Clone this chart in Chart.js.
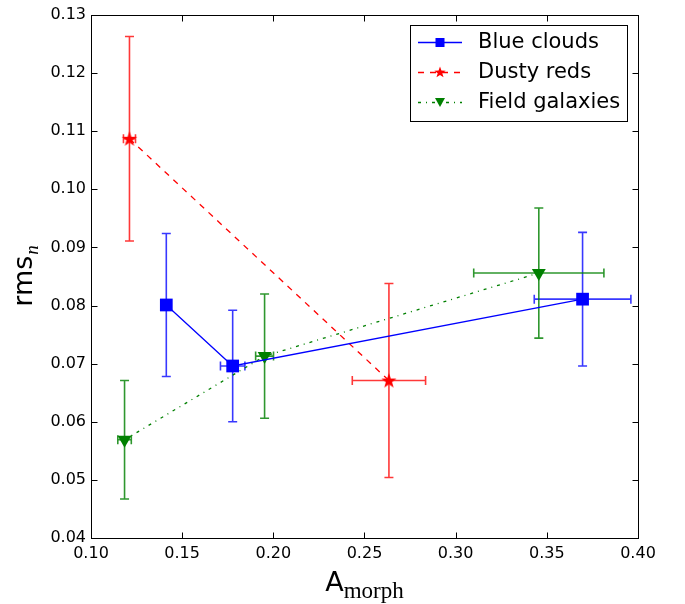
<!DOCTYPE html>
<html>
<head>
    <title>rms_n vs A_morph</title>
    <style>
        body { margin: 0; background: #ffffff; }
        #graf { width: 685px; height: 604px; position: absolute; left: 0; top: 0; }
    </style>
</head>
<body>
    <div id="graf"><canvas id="grafico"></canvas></div>

    <script src="https://cdn.jsdelivr.net/npm/chart.js"></script>
    <script>
        // dados
        var xTicks = [0.10, 0.15, 0.20, 0.25, 0.30, 0.35, 0.40];
        var yTicks = [0.04, 0.05, 0.06, 0.07, 0.08, 0.09, 0.10, 0.11, 0.12, 0.13];

        var blueX = [0.1413, 0.1777, 0.3696];
        var blueY = [0.0801, 0.0696, 0.0811];
        var blueXErr = [0, 0.0067, 0.0265];
        var blueYErr = [0.0123, 0.0096, 0.0115];

        var redX = [0.1211, 0.2634];
        var redY = [0.1087, 0.0671];
        var redXErr = [0.0033, 0.0201];
        var redYErr = [0.0176, 0.0167];

        var greenX = [0.1184, 0.1952, 0.3456];
        var greenY = [0.0569, 0.0713, 0.0856];
        var greenXErr = [0.0037, 0.0049, 0.0357];
        var greenYErr = [0.0102, 0.0107, 0.0112];

        var labels = ["Blue clouds", "Dusty reds", "Field galaxies"];

        function pontos(xs, ys) {
            return xs.map(function (x, i) { return { x: x, y: ys[i] }; });
        }

        // estrela de 5 pontas preenchida (marcador "*")
        function estrela(r, ri) {
            var c = document.createElement("canvas");
            var s = Math.ceil(r * 2 + 2);
            c.width = s; c.height = s;
            var g = c.getContext("2d");
            g.fillStyle = "#ff0000";
            g.beginPath();
            for (var k = 0; k < 10; k++) {
                var rr = k % 2 === 0 ? r : ri;
                var a = -Math.PI / 2 + k * Math.PI / 5;
                var px = s / 2 + rr * Math.cos(a), py = s / 2 + 0.5 + rr * Math.sin(a);
                if (k === 0) g.moveTo(px, py); else g.lineTo(px, py);
            }
            g.closePath();
            g.fill();
            return c;
        }
        var star = estrela(8, 3.2);
        var starSmall = estrela(6, 2.4);

        var series = [
            { xs: blueX, ys: blueY, xe: blueXErr, ye: blueYErr, cor: "rgba(0,0,255,0.78)" },
            { xs: redX, ys: redY, xe: redXErr, ye: redYErr, cor: "rgba(255,0,0,0.78)" },
            { xs: greenX, ys: greenY, xe: greenXErr, ye: greenYErr, cor: "rgba(0,128,0,0.82)" }
        ];

        // barras de erro desenhadas com as escalas do grafico
        var errorBars = {
            id: "errorBars",
            beforeDatasetsDraw: function (chart) {
                var ctx = chart.ctx, sx = chart.scales.x, sy = chart.scales.y;
                ctx.save();
                ctx.lineWidth = 1.6;
                series.forEach(function (s) {
                    ctx.strokeStyle = s.cor;
                    s.xs.forEach(function (x, i) {
                        var px = sx.getPixelForValue(x), py = sy.getPixelForValue(s.ys[i]);
                        var top = sy.getPixelForValue(s.ys[i] + s.ye[i]);
                        var bot = sy.getPixelForValue(s.ys[i] - s.ye[i]);
                        ctx.beginPath();
                        ctx.moveTo(px, top); ctx.lineTo(px, bot);
                        ctx.moveTo(px - 4.5, top); ctx.lineTo(px + 4.5, top);
                        ctx.moveTo(px - 4.5, bot); ctx.lineTo(px + 4.5, bot);
                        if (s.xe[i] > 0) {
                            var l = sx.getPixelForValue(x - s.xe[i]);
                            var r = sx.getPixelForValue(x + s.xe[i]);
                            ctx.moveTo(l, py); ctx.lineTo(r, py);
                            ctx.moveTo(l, py - 4.5); ctx.lineTo(l, py + 4.5);
                            ctx.moveTo(r, py - 4.5); ctx.lineTo(r, py + 4.5);
                        }
                        ctx.stroke();
                    });
                });
                ctx.restore();
            }
        };

        // moldura, ticks para dentro, legenda e titulos dos eixos
        var moldura = {
            id: "moldura",
            afterDraw: function (chart) {
                var ctx = chart.ctx, a = chart.chartArea, sx = chart.scales.x, sy = chart.scales.y;
                var L = Math.round(a.left) + 0.5, R = Math.round(a.right) + 0.5;
                var T = Math.round(a.top) + 0.5, B = Math.round(a.bottom) + 0.5;
                ctx.save();
                ctx.strokeStyle = "#000";
                ctx.lineWidth = 1;
                ctx.strokeRect(L, T, R - L, B - T);
                ctx.beginPath();
                xTicks.forEach(function (v) {
                    var p = Math.round(sx.getPixelForValue(v)) + 0.5;
                    ctx.moveTo(p, B); ctx.lineTo(p, B - 6);
                    ctx.moveTo(p, T); ctx.lineTo(p, T + 6);
                });
                yTicks.forEach(function (v) {
                    var p = Math.round(sy.getPixelForValue(v)) + 0.5;
                    ctx.moveTo(L, p); ctx.lineTo(L + 6, p);
                    ctx.moveTo(R, p); ctx.lineTo(R - 6, p);
                });
                ctx.stroke();

                // legenda
                var bx = 410.5, by = 25.5, bw = 217, bh = 96;
                ctx.fillStyle = "#fff";
                ctx.fillRect(bx, by, bw, bh);
                ctx.strokeRect(bx, by, bw, bh);
                var rows = [42, 72, 102];
                var dashes = [[], [6, 6], [3, 5, 1, 5]];
                var cores = ["#0000ff", "#ff0000", "#008000"];
                rows.forEach(function (y, i) {
                    ctx.save();
                    ctx.strokeStyle = cores[i];
                    ctx.lineWidth = 1.3;
                    ctx.setLineDash(dashes[i]);
                    ctx.beginPath();
                    ctx.moveTo(418, y + 0.5); ctx.lineTo(462, y + 0.5);
                    ctx.stroke();
                    ctx.restore();
                    ctx.fillStyle = cores[i];
                    if (i === 0) {
                        ctx.fillRect(435.5, y - 4, 9, 9);
                    } else if (i === 1) {
                        ctx.drawImage(starSmall, 440 - starSmall.width / 2, y - starSmall.height / 2);
                    } else {
                        ctx.beginPath();
                        ctx.moveTo(435, y - 4); ctx.lineTo(445, y - 4); ctx.lineTo(440, y + 5);
                        ctx.closePath(); ctx.fill();
                    }
                    ctx.fillStyle = "#000";
                    ctx.font = "21px 'DejaVu Sans'";
                    ctx.textBaseline = "middle";
                    ctx.textAlign = "left";
                    ctx.fillText(labels[i], 478, y + 1);
                });

                // titulo eixo x: A_morph
                ctx.fillStyle = "#000";
                ctx.textBaseline = "alphabetic";
                ctx.textAlign = "left";
                ctx.font = "27px 'DejaVu Sans'";
                var wA = ctx.measureText("A").width;
                ctx.font = "23px 'Liberation Serif'";
                var wM = ctx.measureText("morph").width;
                var cx = (a.left + a.right) / 2;
                var x0 = cx - (wA + wM) / 2;
                ctx.font = "27px 'DejaVu Sans'";
                ctx.fillText("A", x0, 591);
                ctx.font = "23px 'Liberation Serif'";
                ctx.fillText("morph", x0 + wA, 598);

                // titulo eixo y: rms_n
                ctx.save();
                ctx.translate(32, (a.top + a.bottom) / 2);
                ctx.rotate(-Math.PI / 2);
                ctx.font = "27px 'DejaVu Sans'";
                var wR = ctx.measureText("rms").width;
                ctx.font = "italic 19px 'Liberation Serif'";
                var wN = ctx.measureText("n").width;
                var y0 = -(wR + wN) / 2;
                ctx.font = "27px 'DejaVu Sans'";
                ctx.fillText("rms", y0, 0);
                ctx.font = "italic 19px 'Liberation Serif'";
                ctx.fillText("n", y0 + wR + 1, 6);
                ctx.restore();

                ctx.restore();
            }
        };

        var ctx = document.getElementById("grafico").getContext("2d");
        var grafico = new Chart(ctx, {
            type: "scatter",
            data: {
                datasets: [
                    {
                        label: labels[0],
                        data: pontos(blueX, blueY),
                        showLine: true,
                        borderColor: "#0000ff",
                        borderWidth: 1.3,
                        pointStyle: "rect",
                        pointRadius: 9,
                        pointBackgroundColor: "#0000ff",
                        pointBorderWidth: 0
                    },
                    {
                        label: labels[1],
                        data: pontos(redX, redY),
                        showLine: true,
                        borderColor: "#ff0000",
                        borderWidth: 1.3,
                        borderDash: [6, 6],
                        pointStyle: star,
                        pointBorderWidth: 0
                    },
                    {
                        label: labels[2],
                        data: pontos(greenX, greenY),
                        showLine: true,
                        borderColor: "#008000",
                        borderWidth: 1.3,
                        borderDash: [3, 5, 1, 5],
                        pointStyle: "triangle",
                        pointRotation: 180,
                        pointRadius: 8,
                        pointBackgroundColor: "#008000",
                        pointBorderWidth: 0
                    }
                ]
            },
            options: {
                responsive: true,
                maintainAspectRatio: false,
                animation: false,
                events: [],
                layout: { padding: { top: 15, right: 47, left: 0, bottom: 0 } },
                plugins: {
                    legend: { display: false },
                    tooltip: { enabled: false }
                },
                scales: {
                    x: {
                        type: "linear",
                        min: 0.10,
                        max: 0.40,
                        grid: { display: false, drawTicks: false },
                        border: { display: false },
                        afterBuildTicks: function (s) { s.ticks = xTicks.map(function (v) { return { value: v }; }); },
                        afterFit: function (s) { s.height = 66; },
                        ticks: {
                            padding: 6,
                            color: "#000",
                            font: { family: "'DejaVu Sans'", size: 16 },
                            callback: function (v) { return v.toFixed(2); }
                        }
                    },
                    y: {
                        type: "linear",
                        min: 0.04,
                        max: 0.13,
                        grid: { display: false, drawTicks: false },
                        border: { display: false },
                        afterBuildTicks: function (s) { s.ticks = yTicks.map(function (v) { return { value: v }; }); },
                        afterFit: function (s) { s.width = 91; },
                        ticks: {
                            padding: 5,
                            color: "#000",
                            font: { family: "'DejaVu Sans'", size: 16 },
                            callback: function (v) { return v.toFixed(2); }
                        }
                    }
                }
            },
            plugins: [errorBars, moldura]
        });
    </script>
</body>
</html>
